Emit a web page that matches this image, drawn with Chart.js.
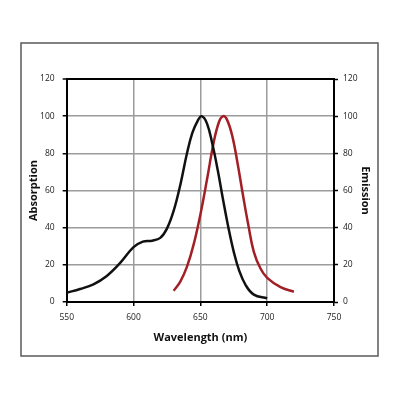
<!DOCTYPE html>
<html>
<head>
<meta charset="utf-8">
<script src="https://cdn.jsdelivr.net/npm/chart.js@4.4.1/dist/chart.umd.min.js"></script>
<style>
  html, body { margin: 0; padding: 0; background: #fff; }
  #wrap { width: 400px; height: 400px; position: relative; }
</style>
</head>
<body>
<div id="wrap"><canvas id="spectraChart"></canvas></div>
<script>
// absorption curve (black)
const absWavelengths = [550, 560, 570, 580, 590, 600, 607, 614, 620, 625, 630, 635, 640, 644, 648, 651, 655, 659, 663, 667, 671, 675, 679, 684, 690, 700];
const absValues = [5, 7, 9.5, 14, 21, 29.5, 32.5, 33, 34.5, 39.5, 49, 63, 80, 91, 97.5, 100, 96, 85, 71, 55, 40, 27, 17, 9, 4, 2];

// emission curve (red)
const emWavelengths = [630, 635, 640, 645, 650, 655, 660, 664, 667, 670, 674, 678, 682, 686, 690, 695, 700, 710, 720];
const emValues = [6, 11, 19, 31, 47, 66, 86, 97, 100, 98, 89, 74, 57, 41, 27, 18, 13, 8, 5.5];

const xTicks = [550, 600, 650, 700, 750];
const yTicks = [0, 20, 40, 60, 80, 100, 120];

const toPoints = (xs, ys) => xs.map((x, i) => ({ x, y: ys[i] }));

const tickFont = { family: 'Open Sans', size: 8.5 };
const titleFont = { family: 'Open Sans', size: 11, weight: 'bold' };

const framePlugin = {
    id: 'frame',
    beforeDraw(chart) {
        const ctx = chart.ctx;
        ctx.save();
        ctx.fillStyle = '#fff';
        ctx.fillRect(0, 0, chart.width, chart.height);
        ctx.strokeStyle = '#5a5a5a';
        ctx.lineWidth = 1.5;
        ctx.strokeRect(21, 43, 357, 313);
        ctx.restore();
    }
};

const gridColor = (ctx) => (ctx.tick && ctx.tick.value === 120 ? '#000' : '#9c9c9c');
const gridWidth = (ctx) => (ctx.tick && ctx.tick.value === 120 ? 2 : 1.5);

new Chart(document.getElementById('spectraChart'), {
    type: 'line',
    data: {
        datasets: [{
            label: 'Absorption',
            data: toPoints(absWavelengths, absValues),
            borderColor: '#111',
            borderWidth: 2.5,
            pointRadius: 0,
            tension: 0.4,
            yAxisID: 'y'
        }, {
            label: 'Emission',
            data: toPoints(emWavelengths, emValues),
            borderColor: '#a31f26',
            borderWidth: 2.5,
            pointRadius: 0,
            tension: 0.4,
            yAxisID: 'y1'
        }]
    },
    options: {
        responsive: true,
        maintainAspectRatio: false,
        animation: false,
        layout: { padding: { top: 79, left: 0, right: 0, bottom: 0 } },
        plugins: {
            legend: { display: false },
            tooltip: { enabled: false }
        },
        scales: {
            x: {
                type: 'linear',
                min: 550,
                max: 750,
                afterBuildTicks: (axis) => { axis.ticks = xTicks.map(v => ({ value: v })); },
                afterFit: (axis) => { axis.height = 98; },
                ticks: { font: tickFont, color: '#222', padding: 6 },
                grid: { color: '#9c9c9c', lineWidth: 1.5, tickColor: '#000', tickLength: 4, tickWidth: 1.5 },
                border: { color: '#000', width: 2 },
                title: { display: true, text: 'Wavelength (nm)', font: titleFont, color: '#111', padding: { top: 0, bottom: 56 } }
            },
            y: {
                position: 'left',
                min: 0,
                max: 120,
                afterBuildTicks: (axis) => { axis.ticks = yTicks.map(v => ({ value: v })); },
                afterFit: (axis) => { axis.width = 66.7; },
                ticks: { font: tickFont, color: '#222', padding: 8 },
                grid: { color: gridColor, lineWidth: gridWidth, tickColor: '#000', tickLength: 4, tickWidth: 1.5 },
                border: { color: '#000', width: 2 },
                title: { display: true, text: 'Absorption', font: titleFont, color: '#111', padding: { top: 27, bottom: 0 } }
            },
            y1: {
                position: 'right',
                min: 0,
                max: 120,
                afterBuildTicks: (axis) => { axis.ticks = yTicks.map(v => ({ value: v })); },
                afterFit: (axis) => { axis.width = 66; },
                ticks: { font: tickFont, color: '#222', padding: 5 },
                grid: { drawOnChartArea: false, tickColor: '#000', tickLength: 4, tickWidth: 1.5 },
                border: { color: '#000', width: 2 },
                title: { display: true, text: 'Emission', font: titleFont, color: '#111', padding: { top: 28, bottom: 0 } }
            }
        }
    },
    plugins: [framePlugin]
});
</script>
</body>
</html>
